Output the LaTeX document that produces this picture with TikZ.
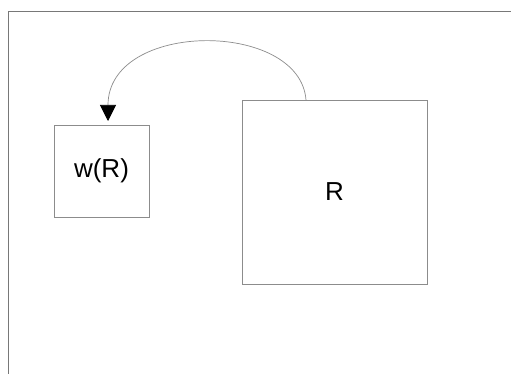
\documentclass[tikz,border=0pt]{standalone}
\usepackage{fontspec}
\setmainfont{Liberation Sans}
\usetikzlibrary{arrows.meta}
\definecolor{linegray}{RGB}{140,140,140}
\definecolor{framegray}{RGB}{120,120,120}
\tikzset{
  boxnode/.style={draw=linegray, line width=0.8pt, rectangle, inner sep=0pt,
                  font=\fontsize{26}{30}\selectfont, text=black},
  linkarrow/.style={draw=linegray, line width=0.7pt,
                    -{Triangle[length=16pt,width=16pt,fill=black,color=black]}},
}
\begin{document}
\begin{tikzpicture}[x=1pt,y=-1pt]
  \useasboundingbox (0,0) rectangle (511,374);
  \fill[white] (0,0) rectangle (511,374);
  % outer frame (left and top edges)
  \draw[framegray, line width=0.8pt] (8,374) -- (8,11) -- (511,11);
  % the two regions
  \node[boxnode, minimum width=95pt, minimum height=92pt] (w) at (101.5,171) {w(R)};
  \node[boxnode, minimum width=185pt, minimum height=184pt] (r) at (334.5,192) {R};
  % mapping arc from R back to w(R)
  \coordinate (start) at (306,100);
  \coordinate (tip) at (108,121);
  \draw[linkarrow] (start) .. controls (300,20) and (108,20) .. (tip);
\end{tikzpicture}
\end{document}
